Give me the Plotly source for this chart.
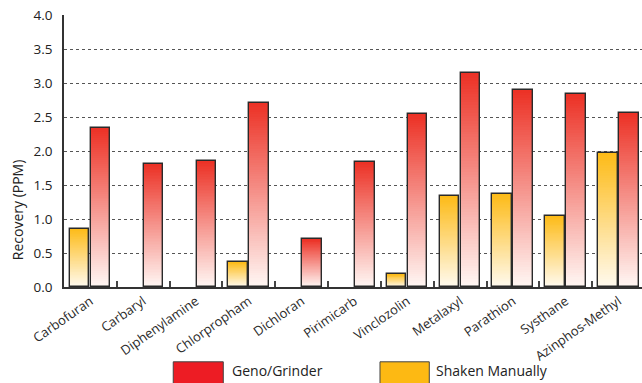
import plotly.graph_objects as go

categories = ["Carbofuran", "Carbaryl", "Diphenylamine", "Chlorpropham", "Dichloran",
              "Pirimicarb", "Vinclozolin", "Metalaxyl", "Parathion", "Systhane", "Azinphos-Methyl"]
geno_grinder = [2.34, 1.81, 1.85, 2.71, 0.70, 1.84, 2.54, 3.15, 2.89, 2.84, 2.56]
shaken_manually = [0.86, 0, 0, 0.37, 0, 0, 0.19, 1.34, 1.37, 1.05, 1.97]
y_ticks = [0.0, 0.5, 1.0, 1.5, 2.0, 2.5, 3.0, 3.5, 4.0]

FONT = "Open Sans"
N_SEG = 80

def lerp(c0, c1, t):
    return "rgb(%d,%d,%d)" % tuple(round(a + (b - a) * t) for a, b in zip(c0, c1))

series = [
    # name, values, offset, bottom colour, top colour
    ("Shaken Manually", shaken_manually, -0.39, (255, 250, 238), (253, 187, 24)),
    ("Geno/Grinder", geno_grinder, 0.01, (255, 246, 243), (236, 50, 38)),
]
BAR_W = 0.37
xs = list(range(len(categories)))

fig = go.Figure()
for name, vals, off, c_bot, c_top in series:
    # each layer covers from k/N of the bar up to its top; later layers overlay earlier ones
    for k in range(N_SEG):
        t = k / (N_SEG - 1)
        fig.add_trace(go.Bar(
            x=xs, y=[v * (1 - k / N_SEG) if v > 0 else None for v in vals],
            base=[v * k / N_SEG for v in vals],
            offset=off, width=BAR_W,
            marker=dict(color=lerp(c_bot, c_top, t), line=dict(width=0)),
            showlegend=False, hoverinfo="skip",
        ))
    fig.add_trace(go.Bar(
        x=xs, y=[v if v > 0 else None for v in vals], offset=off, width=BAR_W,
        marker=dict(color="rgba(0,0,0,0)", line=dict(color="#2a2a2a", width=1.4)),
        name=name, showlegend=False,
    ))

# custom legend (large swatches)
legend_items = [("Geno/Grinder", "#ED1C24", 0.189, 0.2756, 0.287),
                ("Shaken Manually", "#FDB913", 0.5467, 0.632, 0.6405)]
for label, col, x0, x1, xt in legend_items:
    fig.add_shape(type="rect", xref="paper", yref="paper", x0=x0, x1=x1, y0=-0.275, y1=-0.40,
                  fillcolor=col, line=dict(color="#444", width=1))
    fig.add_annotation(xref="paper", yref="paper", x=xt, y=-0.349, xanchor="left", yanchor="bottom",
                       text=label, showarrow=False, font=dict(family=FONT, size=14, color="#222"))

fig.add_annotation(xref="paper", yref="paper", x=-0.081, y=0.283, xanchor="center", yanchor="middle",
                   text="Recovery (PPM)", textangle=-90, showarrow=False,
                   font=dict(family=FONT, size=14, color="#222"))

fig.update_layout(
    width=642, height=383,
    margin=dict(l=64, r=0, t=15, b=96),
    plot_bgcolor="white", paper_bgcolor="white",
    barmode="overlay", bargap=0,
    font=dict(family=FONT, color="#222"),
    xaxis=dict(
        range=[-0.5, 10.443], tickmode="array", tickvals=xs, ticktext=categories,
        tickangle=-35, ticks="", showgrid=False, zeroline=False,
        showline=True, linecolor="#333", linewidth=1.5,
        tickfont=dict(family=FONT, size=13, color="#2a2a2a"),
        minor=dict(tickmode="array", tickvals=[i + 0.5 for i in range(len(categories) - 1)],
                   ticks="inside", ticklen=6, tickwidth=1.5, tickcolor="#444", showgrid=False),
    ),
    yaxis=dict(
        range=[0, 4.0], tickmode="array", tickvals=y_ticks, tickformat=".1f",
        showgrid=True, gridcolor="#555", gridwidth=1, griddash="dot",
        zeroline=False, showline=True, linecolor="#333", linewidth=1.5,
        ticks="", ticklabelstandoff=7,
        tickfont=dict(family=FONT, size=13.5, color="#222"),
    ),
)

fig.write_html("out.html")
